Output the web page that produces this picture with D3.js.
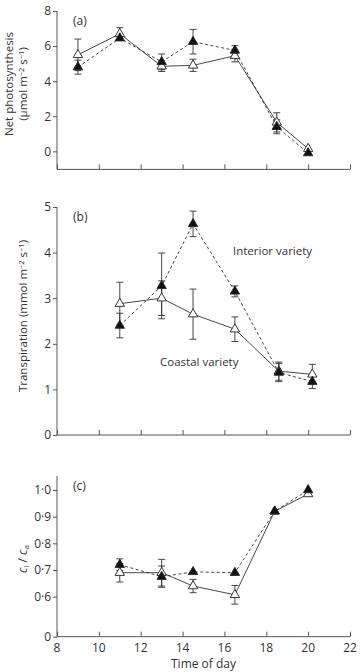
<!DOCTYPE html>
<html lang="en">
<head>
<meta charset="UTF-8">
<title>Diurnal gas exchange</title>
<script src="https://d3js.org/d3.v7.min.js"></script>
<style>
  body { margin: 0; background: #fff; }
  text { font-family: "Open Sans", "DejaVu Sans", sans-serif; fill: #333; }
</style>
</head>
<body>
<svg width="360" height="672"></svg>
<script>
// panel (a) net photosynthesis
let timesA = [9, 11, 13, 14.5, 16.5, 18.5, 20]
let coastalA = [5.5, 6.7, 4.85, 4.9, 5.45, 1.65, 0.15]
let coastalAErr = [0.9, 0.35, 0.3, 0.35, 0.35, 0.55, 0]
let interiorA = [4.8, 6.45, 5.1, 6.25, 5.75, 1.4, -0.1]
let interiorAErr = [0.4, 0, 0.45, 0.7, 0.27, 0.4, 0]

// panel (b) transpiration
let timesB = [11, 13, 14.5, 16.5, 18.6, 20.2]
let coastalB = [2.88, 3.0, 2.65, 2.32, 1.4, 1.33]
let coastalBErr = [0.47, 0.38, 0.55, 0.27, 0.2, 0.22]
let interiorB = [2.4, 3.27, 4.63, 3.15, 1.37, 1.17]
let interiorBErr = [0.27, 0.72, 0.28, 0.12, 0.2, 0.15]

// panel (c) ci/ca
let timesC = [11, 13, 14.5, 16.5, 18.4, 20]
let coastalC = [0.69, 0.69, 0.64, 0.607, 0.92, 0.985]
let coastalCErr = [0.035, 0.05, 0.025, 0.035, 0, 0]
let interiorC = [0.72, 0.675, 0.693, 0.69, 0.92, 1.0]
let interiorCErr = [0.022, 0.04, 0, 0, 0, 0]

let xTicks = [8, 10, 12, 14, 16, 18, 20, 22]
let ticksA = [0, 2, 4, 6, 8]
let ticksB = [0, 1, 2, 3, 4, 5]
let ticksC = [0.45, 0.6, 0.7, 0.8, 0.9, 1.0]

let svg = d3.select('svg')
let x = d3.scaleLinear().domain([8, 22]).range([57, 350])
let tri = d3.symbol().type(d3.symbolTriangle).size(38)

function panel(cfg) {
    let y = d3.scaleLinear().domain(cfg.domain).range(cfg.range)
    let g = svg.append('g')

    // y axis (ticks outward)
    let ya = g.append('g')
        .attr('transform', `translate(${x(8)},0)`)
        .call(d3.axisLeft(y).tickValues(cfg.yTicks).tickSize(4).tickPadding(2)
            .tickFormat(cfg.fmt))
    // x axis (ticks inward)
    let xa = g.append('g')
        .attr('transform', `translate(0,${cfg.range[0]})`)
        .call(d3.axisTop(x).tickValues(xTicks).tickSize(5).tickFormat(''))
    for (let a of [ya, xa]) {
        a.select('.domain').attr('stroke', '#555')
        a.selectAll('.tick line').attr('stroke', '#555')
        a.selectAll('.tick text').attr('fill', '#333').style('font-size', '12px')
            .style('font-family', '"Open Sans", sans-serif')
    }
    ya.select('.domain').attr('d', `M0,${cfg.range[0]}V${cfg.range[1]}`)
    xa.select('.domain').attr('d', `M${x(8)},0H${x(22)}`)

    if (cfg.showX) {
        g.append('g')
            .attr('transform', `translate(0,${cfg.range[0]})`)
            .selectAll('text').data(xTicks).enter().append('text')
            .attr('x', d => x(d)).attr('y', 15)
            .attr('text-anchor', 'middle').style('font-size', '12px')
            .text(d => d)
    }

    g.append('text').attr('x', 73).attr('y', cfg.range[1] + 14)
        .style('font-size', '12px').text(cfg.tag)

    let series = [
        {t: cfg.t, v: cfg.coastal, e: cfg.coastalErr, fill: '#fff', dash: null},
        {t: cfg.t, v: cfg.interior, e: cfg.interiorErr, fill: '#111', dash: '3,2.5'}
    ]
    let line = d3.line().x(d => x(d[0])).y(d => y(d[1]))

    series.forEach(s => {
        let pts = s.t.map((t, i) => [t, s.v[i], s.e[i]])
        g.append('path').datum(pts).attr('d', line)
            .attr('fill', 'none').attr('stroke', '#333').attr('stroke-width', 0.9)
            .attr('stroke-dasharray', s.dash)
        let eb = g.append('g').attr('stroke', '#333').attr('stroke-width', 0.9)
            .selectAll('g').data(pts.filter(d => d[2] > 0)).enter().append('g')
        eb.append('line').attr('x1', d => x(d[0])).attr('x2', d => x(d[0]))
            .attr('y1', d => y(d[1] - d[2])).attr('y2', d => y(d[1] + d[2]))
        eb.append('line').attr('x1', d => x(d[0]) - 3.5).attr('x2', d => x(d[0]) + 3.5)
            .attr('y1', d => y(d[1] + d[2])).attr('y2', d => y(d[1] + d[2]))
        eb.append('line').attr('x1', d => x(d[0]) - 3.5).attr('x2', d => x(d[0]) + 3.5)
            .attr('y1', d => y(d[1] - d[2])).attr('y2', d => y(d[1] - d[2]))
        s.pts = pts
    })
    series.forEach(s => {
        g.append('g').selectAll('path').data(s.pts).enter().append('path')
            .attr('d', tri)
            .attr('transform', d => `translate(${x(d[0])},${y(d[1])})`)
            .attr('fill', s.fill).attr('stroke', '#222').attr('stroke-width', 0.9)
    })
    return {g: g, y: y}
}

let pa = panel({domain: [-1.03, 8], range: [169.4, 11], yTicks: ticksA, fmt: d3.format('d'),
    t: timesA, coastal: coastalA, coastalErr: coastalAErr,
    interior: interiorA, interiorErr: interiorAErr, tag: '(a)'})

let pb = panel({domain: [0, 5], range: [435, 207], yTicks: ticksB, fmt: d3.format('d'),
    t: timesB, coastal: coastalB, coastalErr: coastalBErr,
    interior: interiorB, interiorErr: interiorBErr, tag: '(b)'})

let pc = panel({domain: [0.45, 1.0525], range: [636.7, 476], yTicks: ticksC,
    fmt: d => d < 0.5 ? '0' : d3.format('.1f')(d).replace('.', '\u00b7'),
    t: timesC, coastal: coastalC, coastalErr: coastalCErr,
    interior: interiorC, interiorErr: interiorCErr, tag: '(c)', showX: true})

// variety labels
pb.g.append('text').attr('x', 233).attr('y', pb.y(3.95)).style('font-size', '11.5px')
    .text('Interior variety')
pb.g.append('text').attr('x', 160).attr('y', pb.y(1.52)).style('font-size', '11.5px')
    .text('Coastal variety')

// axis titles
function sup(t, s) {
    t.append('tspan').text(s).style('font-size', '7.5px').attr('baseline-shift', '35%')
}
let la = svg.append('g').attr('transform', 'translate(13,84) rotate(-90)')
la.append('text').attr('text-anchor', 'middle').style('font-size', '11.5px').text('Net photosynthesis')
let la2 = la.append('text').attr('y', 14).attr('text-anchor', 'middle').style('font-size', '11.5px')
la2.append('tspan').text('(\u03bcmol m')
sup(la2, '\u22122')
la2.append('tspan').text(' s')
sup(la2, '\u22121')
la2.append('tspan').text(')')

let lb = svg.append('text').attr('transform', 'translate(27,316) rotate(-90)')
    .attr('text-anchor', 'middle').style('font-size', '11.5px')
lb.append('tspan').text('Transpiration (mmol m')
sup(lb, '\u22122')
lb.append('tspan').text(' s')
sup(lb, '\u22121')
lb.append('tspan').text(')')

let lc = svg.append('text').attr('transform', 'translate(27,559) rotate(-90)')
    .attr('text-anchor', 'middle').style('font-size', '12px')
lc.append('tspan').text('c').style('font-style', 'italic')
lc.append('tspan').text('i').style('font-size', '8px').attr('baseline-shift', '-25%')
lc.append('tspan').text(' / ')
lc.append('tspan').text('c').style('font-style', 'italic')
lc.append('tspan').text('a').style('font-size', '8px').attr('baseline-shift', '-25%')

svg.append('text').attr('x', x(15)).attr('y', 668).attr('text-anchor', 'middle')
    .style('font-size', '12px').text('Time of day')
</script>
</body>
</html>
